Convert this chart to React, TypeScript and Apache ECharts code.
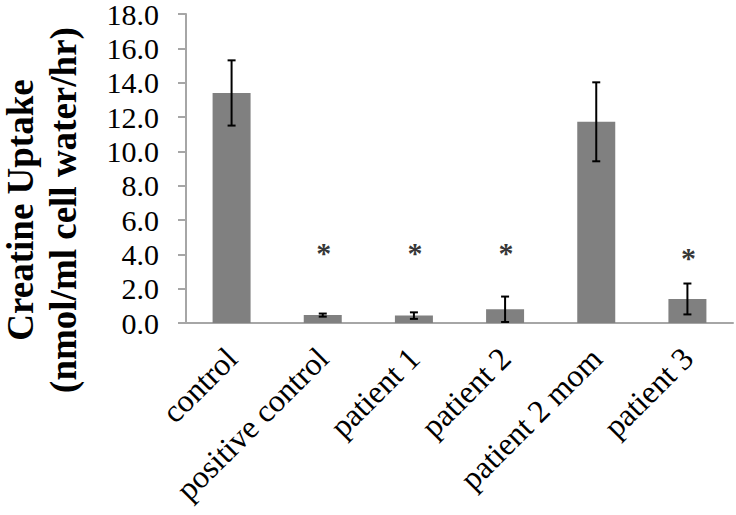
import React, { useEffect, useRef } from "react";
import * as echarts from "echarts";

const categories = ["control", "positive control", "patient 1", "patient 2", "patient 2 mom", "patient 3"];
const means = [13.4, 0.46, 0.43, 0.8, 11.72, 1.4];
const errors = [1.9, 0.09, 0.19, 0.74, 2.3, 0.9];
const asteriskY: (number | null)[] = [null, 4.4, 4.4, 4.4, null, 4.1];
const yTitle = "Creatine Uptake\n(nmol/ml cell water/hr)";

const SERIF = "'Liberation Serif', 'Times New Roman', serif";

export default function App() {
  const ref = useRef<HTMLDivElement>(null);
  useEffect(() => {
    if (!ref.current) return;
    const chart = echarts.init(ref.current, null, { renderer: "svg" });
    const errData = means.map((m, i) => [i, m - errors[i], m + errors[i]]);
    const starData = asteriskY
      .map((v, i) => (v == null ? null : [i, v]))
      .filter((d) => d !== null);
    chart.setOption({
      animation: false,
      backgroundColor: "#ffffff",
      grid: {
        left: 186,
        right: 3,
        top: 14,
        bottom: 192,
        containLabel: false,
        outerBoundsMode: "none",
      },
      xAxis: {
        type: "category",
        data: categories,
        axisLine: { show: true, lineStyle: { color: "#a6a6a6", width: 2 } },
        axisTick: { show: false },
        axisLabel: {
          rotate: 45,
          align: "right",
          verticalAlign: "middle",
          margin: 30,
          interval: 0,
          color: "#000",
          fontFamily: SERIF,
          fontSize: 32,
          hideOverlap: false,
        },
      },
      yAxis: {
        type: "value",
        min: 0,
        max: 18,
        interval: 2,
        splitLine: { show: false },
        axisLine: { show: true, lineStyle: { color: "#a6a6a6", width: 2 } },
        axisTick: { show: true, length: 8, lineStyle: { color: "#a6a6a6", width: 2 } },
        axisLabel: {
          margin: 27,
          color: "#000",
          fontFamily: SERIF,
          fontSize: 30,
          lineHeight: 26,
          formatter: (v: number) => v.toFixed(1),
        },
      },
      graphic: [
        {
          type: "text",
          x: 42,
          y: 210,
          rotation: Math.PI / 2,
          style: {
            text: yTitle,
            align: "center",
            verticalAlign: "middle",
            font: `bold 37px ${SERIF}`,
            lineHeight: 43,
            fill: "#000",
          },
        },
      ],
      series: [
        {
          type: "bar",
          data: means,
          barWidth: 38,
          itemStyle: { color: "#808080" },
          z: 2,
        },
        {
          type: "custom",
          data: errData,
          encode: { x: 0, y: [1, 2] },
          z: 3,
          renderItem: (params: any, api: any) => {
            const x = api.value(0);
            const lo = api.coord([x, api.value(1)]);
            const hi = api.coord([x, api.value(2)]);
            const hw = 4;
            const style = { stroke: "#000", lineWidth: 2 };
            return {
              type: "group",
              children: [
                { type: "line", shape: { x1: lo[0], y1: lo[1], x2: hi[0], y2: hi[1] }, style },
                { type: "line", shape: { x1: lo[0] - hw, y1: lo[1], x2: lo[0] + hw, y2: lo[1] }, style },
                { type: "line", shape: { x1: hi[0] - hw, y1: hi[1], x2: hi[0] + hw, y2: hi[1] }, style },
              ],
            };
          },
        },
        {
          type: "scatter",
          data: starData,
          symbolSize: 1,
          itemStyle: { color: "transparent" },
          z: 4,
          label: {
            show: true,
            position: "inside",
            formatter: () => "*",
            fontFamily: SERIF,
            fontSize: 30,
            fontWeight: "bold",
            color: "#000",
            offset: [1, 5],
          },
        },
      ],
    });
    return () => chart.dispose();
  }, []);
  return (
    <div
      ref={ref}
      style={{ position: "absolute", left: 0, top: 0, width: 736, height: 515 }}
    />
  );
}
